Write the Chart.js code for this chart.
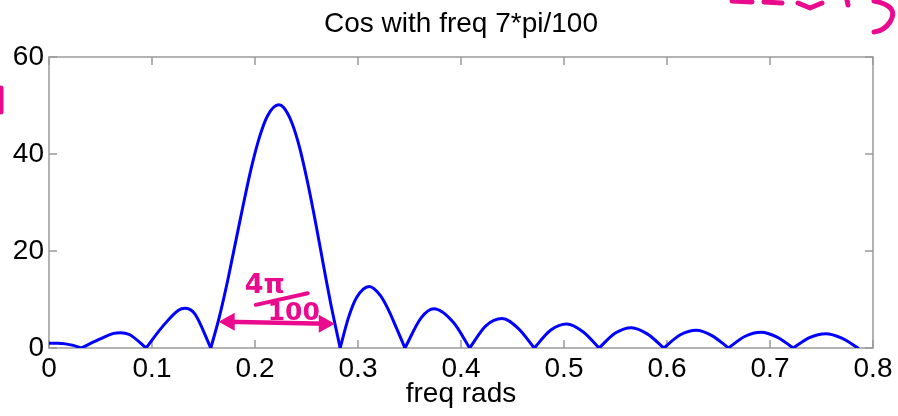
<!DOCTYPE html>
<html>
<head>
<meta charset="utf-8">
<script src="https://cdn.jsdelivr.net/npm/chart.js@4/dist/chart.umd.min.js"></script>
<style>
  html, body { margin: 0; padding: 0; background: #fff; }
  canvas { display: block; }
</style>
</head>
<body>
<canvas id="cos-chart" width="898" height="416"></canvas>
<script>
// frequency (rad) and |X(w)|
const freq = [0, 0.0079, 0.0157, 0.0236, 0.0314, 0.0471, 0.0628, 0.0691, 0.0785, 0.0942,
    0.1100, 0.1257, 0.1319, 0.1414, 0.1571, 0.1649, 0.1728, 0.1806, 0.1885, 0.1963,
    0.2042, 0.2121, 0.2231, 0.2278, 0.2356, 0.2435, 0.2513, 0.2592, 0.2670, 0.2749,
    0.2827, 0.2906, 0.2985, 0.3110, 0.3220, 0.3299, 0.3377, 0.3456, 0.3613, 0.3738,
    0.3927, 0.4084, 0.4241, 0.4398, 0.4555, 0.4712, 0.4869, 0.5027, 0.5184, 0.5341,
    0.5498, 0.5655, 0.5812, 0.5969, 0.6126, 0.6283, 0.6440, 0.6597, 0.6754, 0.6912,
    0.7069, 0.7226, 0.7383, 0.7540, 0.7697, 0.7854];
const magnitude = [1.00, 0.97, 0.85, 0.54, 0, 1.61, 3.01, 3.17, 2.73, 0,
    4.36, 7.80, 8.19, 7.10, 0, 5.99, 13.24, 21.27, 29.43, 37.03,
    43.38, 47.85, 50.13, 49.57, 46.54, 41.18, 33.92, 25.43, 16.44, 7.72,
    0, 6.16, 10.36, 12.69, 10.74, 7.71, 3.93, 0, 6.22, 8.08,
    5.25, 0, 4.57, 6.07, 4.06, 0, 3.66, 4.94, 3.34, 0,
    3.08, 4.19, 2.86, 0, 2.67, 3.66, 2.51, 0, 2.37, 3.26,
    2.25, 0, 2.13, 2.95, 2.04, 0];

const xTicks = [0, 0.1, 0.2, 0.3, 0.4, 0.5, 0.6, 0.7, 0.8];
const xTickLabels = ['0', '0.1', '0.2', '0.3', '0.4', '0.5', '0.6', '0.7', '0.8'];
const yTicks = [0, 20, 40, 60];
const yTickLabels = ['0', '20', '40', '60'];

const chartTitle = 'Cos with freq 7*pi/100';
const xTitle = 'freq rads';

// handwritten note: main lobe width
const noteSpan = [0.1657, 0.2765];
const noteLevel = 5.4;

const FONT = '"Liberation Sans", Arial, Helvetica, sans-serif';
const PINK = '#ea0a8e';

// split the curve at its zeros so each lobe keeps a sharp notch
const lobes = [];
let cur = [];
freq.forEach((f, i) => {
    cur.push({ x: f, y: magnitude[i] });
    if (magnitude[i] === 0 && cur.length > 1) {
        lobes.push(cur);
        cur = [{ x: f, y: 0 }];
    }
});
if (cur.length > 1) lobes.push(cur);

const framePlugin = {
    id: 'frame',
    beforeDatasetsDraw(chart) {
        const { ctx, chartArea: a, scales: { x, y } } = chart;
        ctx.save();
        ctx.strokeStyle = '#9a9a9a';
        ctx.lineWidth = 1.5;
        ctx.strokeRect(a.left, a.top, a.right - a.left, a.bottom - a.top);
        ctx.beginPath();
        xTicks.forEach(v => {
            const px = x.getPixelForValue(v);
            ctx.moveTo(px, a.bottom); ctx.lineTo(px, a.bottom - 8);
            ctx.moveTo(px, a.top); ctx.lineTo(px, a.top + 8);
        });
        yTicks.forEach(v => {
            const py = y.getPixelForValue(v);
            ctx.moveTo(a.left, py); ctx.lineTo(a.left + 8, py);
            ctx.moveTo(a.right, py); ctx.lineTo(a.right - 8, py);
        });
        ctx.stroke();

        // title centred over the plot box, as MATLAB does
        ctx.fillStyle = '#000';
        ctx.font = '28px ' + FONT;
        ctx.textAlign = 'center';
        ctx.textBaseline = 'middle';
        ctx.fillText(chartTitle, (a.left + a.right) / 2, 24);
        ctx.restore();
    },
    afterDraw(chart) {
        const { ctx, scales: { x, y } } = chart;
        ctx.save();
        ctx.strokeStyle = PINK;
        ctx.fillStyle = PINK;
        ctx.lineCap = 'round';
        ctx.lineJoin = 'round';

        // double arrow across the main lobe
        const x0 = x.getPixelForValue(noteSpan[0]);
        const x1 = x.getPixelForValue(noteSpan[1]);
        const py = y.getPixelForValue(noteLevel);
        ctx.lineWidth = 4.5;
        ctx.beginPath();
        ctx.moveTo(x0 + 6, py); ctx.lineTo(x1 - 6, py + 2);
        ctx.stroke();
        ctx.beginPath();
        ctx.moveTo(x0 - 1, py); ctx.lineTo(x0 + 15, py - 9); ctx.lineTo(x0 + 15, py + 9); ctx.closePath();
        ctx.moveTo(x1 + 1, py + 2); ctx.lineTo(x1 - 15, py - 7); ctx.lineTo(x1 - 15, py + 11); ctx.closePath();
        ctx.fill();

        // 4π / 100
        const mid = x.getPixelForValue((noteSpan[0] + noteSpan[1]) / 2);
        ctx.font = 'bold 27px "DejaVu Sans", sans-serif';
        ctx.textAlign = 'center';
        ctx.textBaseline = 'middle';
        ctx.fillText('4π', mid - 12, y.getPixelForValue(12.8));
        ctx.lineWidth = 4;
        ctx.beginPath();
        ctx.moveTo(mid - 21, y.getPixelForValue(8.9));
        ctx.lineTo(mid + 31, y.getPixelForValue(11.3));
        ctx.stroke();
        ctx.font = 'bold 25px "DejaVu Sans", sans-serif';
        ctx.fillText('100', mid + 17, y.getPixelForValue(7.2));

        // stray ink at the page edges
        ctx.lineWidth = 5;
        ctx.beginPath();
        ctx.moveTo(732, 1); ctx.lineTo(752, 2);
        ctx.moveTo(764, 2); ctx.lineTo(782, 3);
        ctx.moveTo(798, 3); ctx.lineTo(810, 8); ctx.lineTo(822, 3);
        ctx.moveTo(847, 0); ctx.lineTo(848, 5);
        ctx.moveTo(874, 1);
        ctx.quadraticCurveTo(900, 6, 890, 22);
        ctx.quadraticCurveTo(884, 31, 874, 32);
        ctx.moveTo(1, 88); ctx.lineTo(1, 112);
        ctx.stroke();
        ctx.restore();
    }
};

new Chart(document.getElementById('cos-chart').getContext('2d'), {
    type: 'line',
    data: {
        datasets: lobes.map(seg => ({
            data: seg,
            borderColor: '#0000ff',
            borderWidth: 3,
            borderCapStyle: 'round',
            borderJoinStyle: 'round',
            pointRadius: 0,
            fill: false,
            cubicInterpolationMode: 'monotone'
        }))
    },
    options: {
        responsive: false,
        animation: false,
        devicePixelRatio: 1,
        layout: { padding: { left: 0, right: 25, top: 57, bottom: 0 } },
        scales: {
            x: {
                type: 'linear',
                min: 0,
                max: 0.8,
                afterBuildTicks: s => { s.ticks = xTicks.map(v => ({ value: v })); },
                afterFit: s => { s.height = 68; },
                ticks: {
                    color: '#000',
                    font: { family: FONT, size: 28 },
                    padding: 4,
                    maxRotation: 0,
                    autoSkip: false,
                    callback: (v, i) => xTickLabels[i]
                },
                grid: { display: false, drawTicks: false },
                border: { display: false },
                title: {
                    display: true,
                    text: xTitle,
                    color: '#000',
                    font: { family: FONT, size: 28 },
                    padding: { top: 0, bottom: 5 }
                }
            },
            y: {
                min: 0,
                max: 60,
                afterBuildTicks: s => { s.ticks = yTicks.map(v => ({ value: v })); },
                afterFit: s => { s.width = 49; },
                ticks: {
                    color: '#000',
                    font: { family: FONT, size: 28 },
                    padding: 5,
                    callback: (v, i) => yTickLabels[i]
                },
                grid: { display: false, drawTicks: false },
                border: { display: false }
            }
        },
        plugins: {
            legend: { display: false },
            tooltip: { enabled: false },
            title: { display: false }
        }
    },
    plugins: [framePlugin]
});
</script>
</body>
</html>
